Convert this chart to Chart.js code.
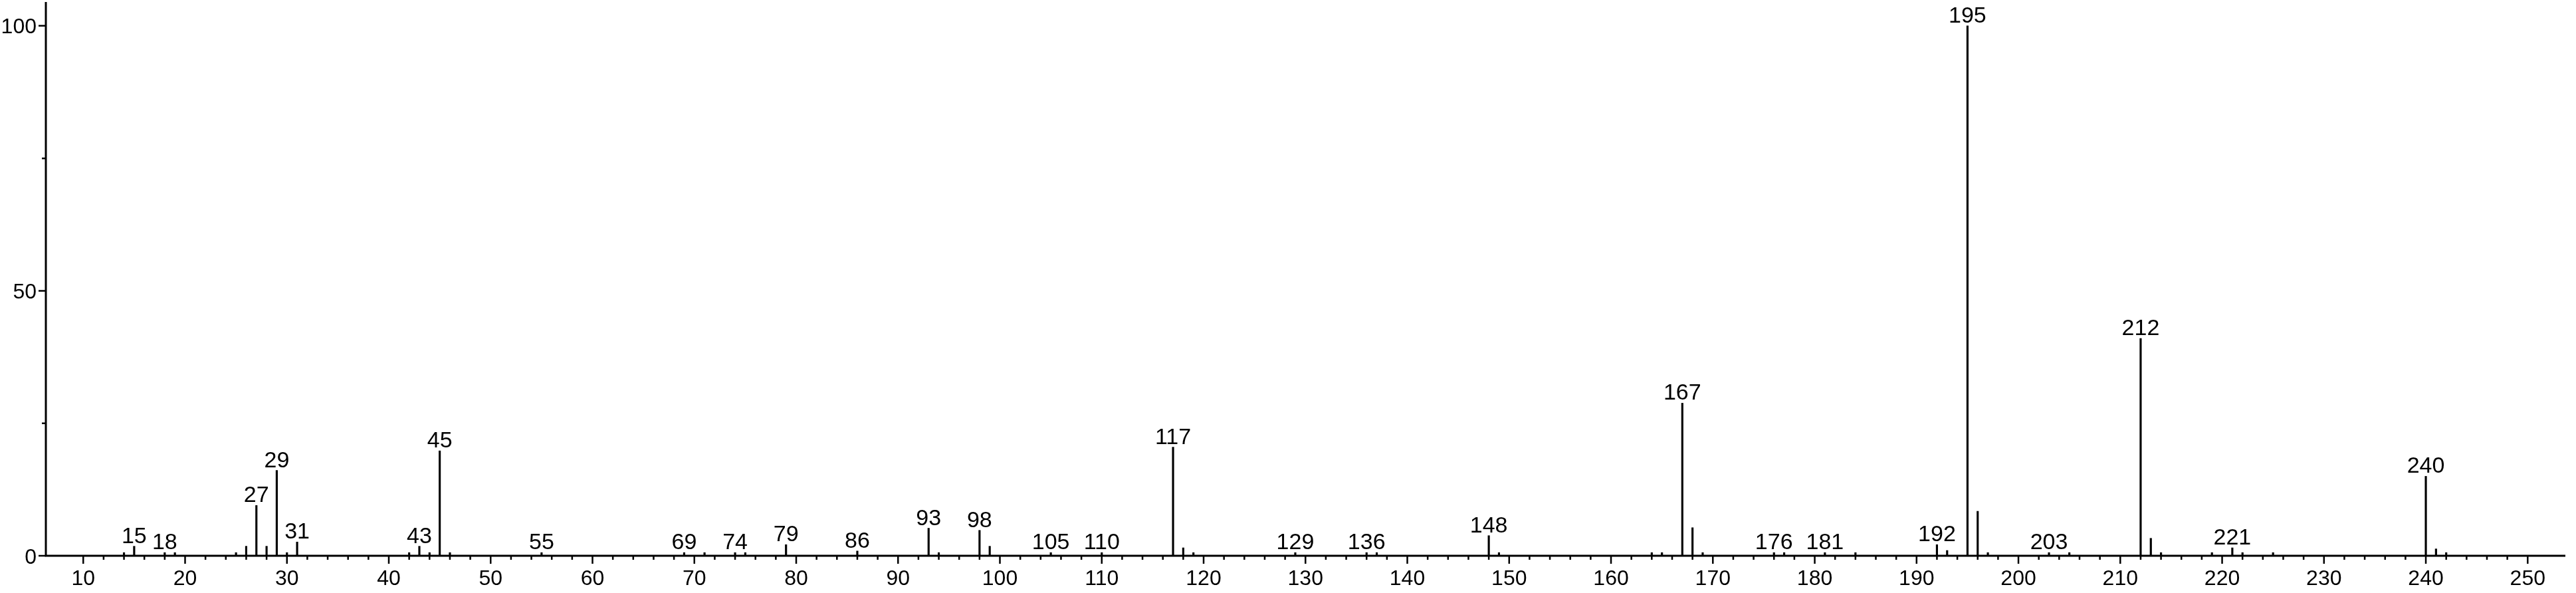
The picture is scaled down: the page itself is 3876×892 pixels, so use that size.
<!DOCTYPE html>
<html>
<head>
<meta charset="utf-8">
<script src="https://cdn.jsdelivr.net/npm/chart.js@4"></script>
<style>
  html, body { margin: 0; padding: 0; background: #fff; }
  #wrap { width: 3876px; height: 892px; }
</style>
</head>
<body>
<div id="wrap"><canvas id="msChart"></canvas></div>
<script>
// m/z values of the peaks
const mz = [14, 15, 18, 19, 25, 26, 27, 28, 29, 30, 31, 42, 43, 44, 45, 46, 55, 69, 71, 74, 75, 79, 86,
    93, 94, 98, 99, 105, 110, 117, 118, 119, 129, 136, 137, 148, 149, 164, 165, 167, 168, 169,
    176, 177, 181, 184, 192, 193, 195, 196, 197, 203, 205, 212, 213, 214, 219, 221, 222, 225,
    240, 241, 242];
// relative abundance
const abundance = [0.6, 1.8, 0.6, 0.6, 0.6, 1.8, 9.5, 1.8, 16.1, 0.6, 2.6, 0.6, 1.8, 0.6, 19.8, 0.6, 0.6, 0.6, 0.6, 0.6, 0.6, 2.1, 0.9,
    5.2, 0.6, 4.8, 1.8, 0.6, 0.6, 20.5, 1.5, 0.6, 0.6, 0.6, 0.6, 3.8, 0.6, 0.6, 0.6, 28.8, 5.3, 0.6,
    0.6, 0.6, 0.6, 0.6, 2.1, 1.0, 100, 8.4, 0.6, 0.6, 0.6, 41.0, 3.3, 0.6, 0.6, 1.5, 0.6, 0.6,
    15.0, 1.3, 0.6];
// peaks that carry a number above them
const labeledPeaks = [15, 18, 27, 29, 31, 43, 45, 55, 69, 74, 79, 86, 93, 98, 105, 110, 117, 129, 136,
    148, 167, 176, 181, 192, 195, 203, 212, 221, 240];
// axis ticks
const xMajorTicks = [10, 20, 30, 40, 50, 60, 70, 80, 90, 100, 110, 120, 130, 140, 150, 160, 170, 180, 190, 200, 210, 220, 230, 240, 250];
const yTickLabels = [0, 50, 100];

const FONT = '"Liberation Sans", Arial, sans-serif';

const points = mz.map((m, i) => ({ x: m, y: abundance[i] }));

// axis lines, tick marks, y labels and peak numbers
const axisPlugin = {
    id: 'axisPlugin',
    beforeDraw(chart) {
        const ctx = chart.ctx;
        ctx.save();
        ctx.fillStyle = '#fff';
        ctx.fillRect(0, 0, chart.width, chart.height);
        ctx.restore();
    },
    afterDraw(chart) {
        const ctx = chart.ctx;
        const xs = chart.scales.x, ys = chart.scales.y;
        const area = chart.chartArea;
        const base = ys.getPixelForValue(0);
        ctx.save();
        ctx.strokeStyle = '#000';
        ctx.lineWidth = 3;
        ctx.beginPath();
        ctx.moveTo(area.left, area.top);
        ctx.lineTo(area.left, base + 1.5);
        ctx.moveTo(area.left - 1.5, base);
        ctx.lineTo(area.right, base);
        ctx.stroke();

        ctx.lineWidth = 2.5;
        ctx.beginPath();
        xs.ticks.forEach(t => {
            const v = Math.round(t.value);
            if (Math.abs(t.value - v) > 1e-6 || v % 2 !== 0) return;
            const px = xs.getPixelForValue(v);
            const len = xMajorTicks.includes(v) ? 12 : 6;
            ctx.moveTo(px, base);
            ctx.lineTo(px, base + len);
        });
        ys.ticks.forEach(t => {
            const v = Math.round(t.value);
            if (Math.abs(t.value - v) > 1e-6 || v % 25 !== 0) return;
            const py = ys.getPixelForValue(v);
            const len = yTickLabels.includes(v) ? 11 : 6;
            ctx.moveTo(area.left, py);
            ctx.lineTo(area.left - len, py);
        });
        ctx.stroke();

        ctx.fillStyle = '#000';
        ctx.font = '32px ' + FONT;
        ctx.textBaseline = 'alphabetic';
        ctx.textAlign = 'right';
        yTickLabels.forEach(v => {
            ctx.fillText(String(v), area.left - 14, ys.getPixelForValue(v) + 11.5);
        });
        ctx.font = '34px ' + FONT;
        ctx.textAlign = 'center';
        labeledPeaks.forEach(m => {
            const i = mz.indexOf(m);
            const px = xs.getPixelForValue(m);
            const py = ys.getPixelForValue(abundance[i]);
            ctx.fillText(String(m), px, py - 5);
        });
        ctx.restore();
    }
};

const ctx = document.getElementById('msChart').getContext('2d');
const msChart = new Chart(ctx, {
    type: 'bar',
    data: {
        datasets: [{
            data: points,
            backgroundColor: '#000',
            borderWidth: 0,
            barThickness: 2.5,
            grouped: false
        }]
    },
    options: {
        responsive: true,
        maintainAspectRatio: false,
        animation: false,
        events: [],
        layout: { padding: { top: 3, left: 0, right: 0, bottom: 0 } },
        plugins: {
            legend: { display: false },
            tooltip: { enabled: false }
        },
        scales: {
            x: {
                type: 'linear',
                offset: false,
                min: 6.33,
                max: 253.7,
                grid: { display: false, drawTicks: false },
                border: { display: false },
                ticks: {
                    stepSize: 2,
                    autoSkip: false,
                    maxRotation: 0,
                    minRotation: 0,
                    padding: 16,
                    color: '#000',
                    font: { family: FONT, size: 32 },
                    callback: v => xMajorTicks.includes(v) ? String(v) : ''
                },
                afterFit: s => { s.height = 56; }
            },
            y: {
                min: 0,
                max: 104.5,
                grid: { display: false, drawTicks: false },
                border: { display: false },
                ticks: {
                    display: false,
                    stepSize: 25,
                    includeBounds: false
                },
                afterFit: s => { s.width = 69; }
            }
        }
    },
    plugins: [axisPlugin]
});
</script>
</body>
</html>
